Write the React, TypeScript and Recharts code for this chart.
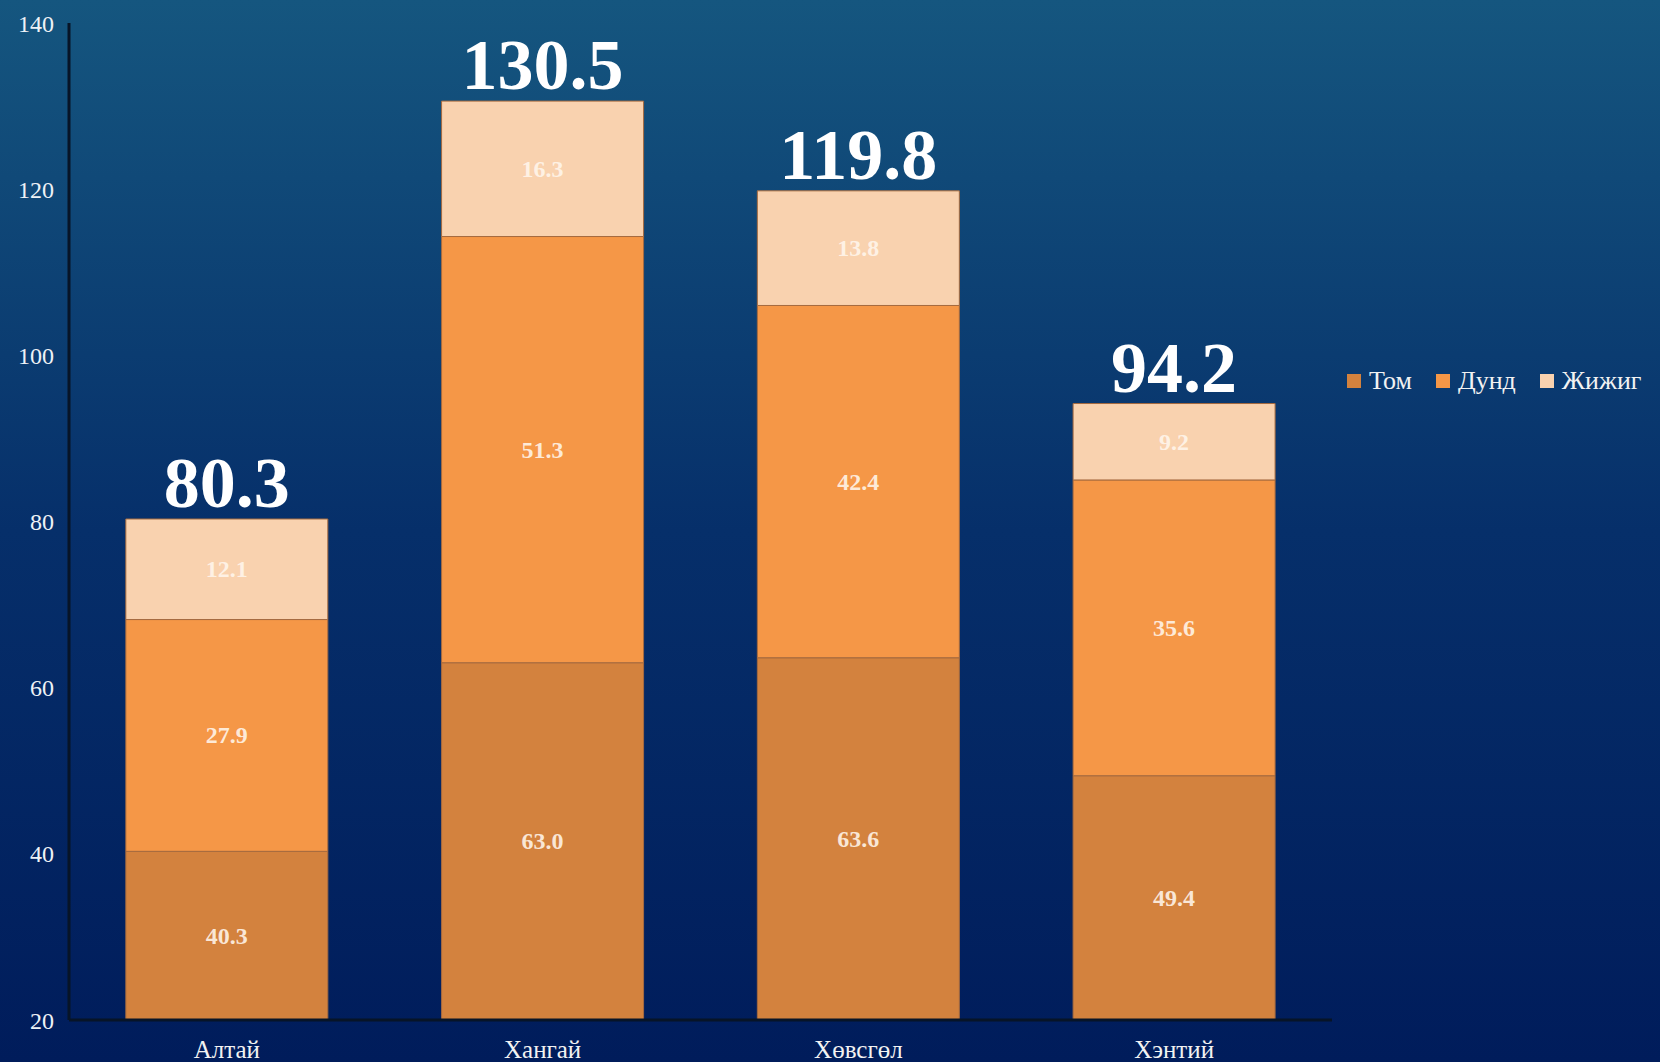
import { BarChart, Bar, XAxis, YAxis, Legend, LabelList } from "recharts";

const regions = ["Алтай", "Хангай", "Хөвсгөл", "Хэнтий"];
const tom = [40.3, 63.0, 63.6, 49.4];
const dund = [27.9, 51.3, 42.4, 35.6];
const jijig = [12.1, 16.3, 13.8, 9.2];
const totals = [80.3, 130.5, 119.8, 94.2];
const yTicks = [20, 40, 60, 80, 100, 120, 140];

const series = [
  { key: "tom", name: "Том", color: "#d3823e" },
  { key: "dund", name: "Дунд", color: "#f59747" },
  { key: "jijig", name: "Жижиг", color: "#f9d2af" },
];

const data = regions.map((name, i) => ({
  name,
  tom: tom[i],
  dund: dund[i],
  jijig: jijig[i],
}));

const W = 1660;
const H = 1062;
const X_AXIS_H = 42;
const PLOT_BOTTOM = H - X_AXIS_H;
const FONT = "'Liberation Serif', 'Times New Roman', serif";

// value inside the visible part of a segment (bars start at 0 but axis starts at 20)
const SegmentLabel = (props: any) => {
  const vb = props.viewBox || props;
  const x = Number(vb.x);
  const w = Number(vb.width);
  const top = Math.min(Number(vb.y), Number(vb.y) + Number(vb.height));
  const bottom = Math.min(
    Math.max(Number(vb.y), Number(vb.y) + Number(vb.height)),
    PLOT_BOTTOM
  );
  const cy = (top + bottom) / 2;
  return (
    <text
      x={x + w / 2}
      y={cy}
      textAnchor="middle"
      dominantBaseline="central"
      fill="#fff6ec"
      fillOpacity={0.88}
      fontFamily={FONT}
      fontWeight="bold"
      fontSize={24}
    >
      {Number(props.value).toFixed(1)}
    </text>
  );
};

const TotalLabel = (props: any) => {
  const vb = props.viewBox || props;
  const x = Number(vb.x);
  const w = Number(vb.width);
  const top = Math.min(Number(vb.y), Number(vb.y) + Number(vb.height));
  return (
    <text
      x={x + w / 2}
      y={top - 12}
      textAnchor="middle"
      fill="#ffffff"
      fontFamily={FONT}
      fontWeight="bold"
      fontSize={72}
    >
      {totals[props.index].toFixed(1)}
    </text>
  );
};

const LegendBox = () => (
  <div style={{ display: "flex", alignItems: "center", fontFamily: FONT }}>
    {series.map((s) => (
      <div
        key={s.key}
        style={{ display: "flex", alignItems: "center", marginRight: 24 }}
      >
        <span
          style={{
            width: 14,
            height: 14,
            background: s.color,
            display: "inline-block",
            marginRight: 8,
          }}
        />
        <span style={{ color: "#f2f2f2", fontSize: 26 }}>{s.name}</span>
      </div>
    ))}
  </div>
);

export default function App() {
  return (
    <div
      style={{
        position: "absolute",
        left: 0,
        top: 0,
        width: W,
        height: H,
        background: "linear-gradient(180deg, #15567f 0%, #062f6a 50%, #001c5b 100%)",
      }}
    >
      <BarChart
        width={W}
        height={H}
        data={data}
        margin={{ top: 23, right: 328, left: 0, bottom: 0 }}
        barCategoryGap="18%"
      >
        <XAxis
          dataKey="name"
          height={X_AXIS_H}
          axisLine={{ stroke: "#071427", strokeWidth: 3 }}
          tickLine={false}
          tickSize={0}
          tickMargin={20}
          tick={{ fill: "#f2f2f2", fontSize: 25, fontFamily: FONT }}
        />
        <YAxis
          width={69}
          domain={[20, 140]}
          ticks={yTicks}
          allowDataOverflow
          axisLine={{ stroke: "#071427", strokeWidth: 3 }}
          tickLine={false}
          tickSize={0}
          tickMargin={15}
          tick={{ fill: "#eef2f6", fontSize: 24, fontFamily: FONT }}
        />
        <Legend
          layout="horizontal"
          verticalAlign="middle"
          align="center"
          content={<LegendBox />}
          wrapperStyle={{ left: 1347, top: 366, width: "auto", bottom: "auto", right: "auto" }}
        />
        {series.map((s, si) => (
          <Bar
            key={s.key}
            dataKey={s.key}
            name={s.name}
            stackId="a"
            fill={s.color}
            stroke="#a56a3f"
            strokeWidth={1}
            isAnimationActive={false}
          >
            <LabelList dataKey={s.key} content={<SegmentLabel />} />
            {si === series.length - 1 && (
              <LabelList dataKey={s.key} content={<TotalLabel />} />
            )}
          </Bar>
        ))}
      </BarChart>
    </div>
  );
}
